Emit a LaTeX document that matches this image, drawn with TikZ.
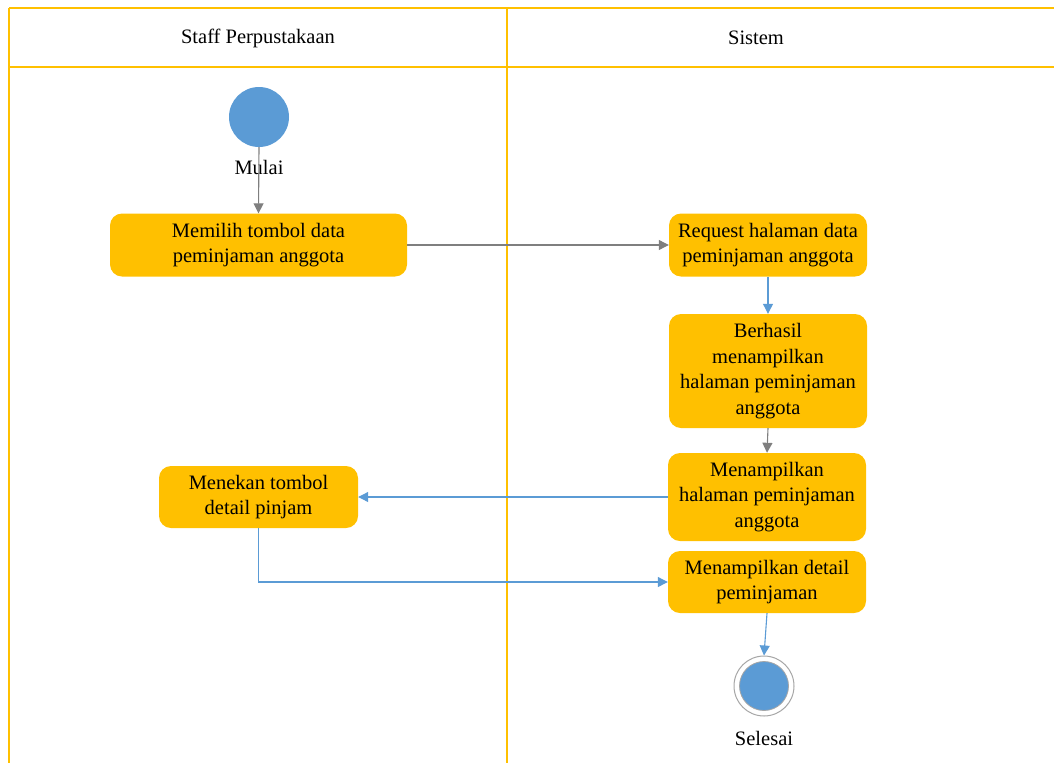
\documentclass[tikz,border=0pt]{standalone}
\usepackage{fontspec}
\setmainfont{Liberation Serif}
\usetikzlibrary{arrows.meta}
\definecolor{actfill}{HTML}{FFC000}
\definecolor{lanecol}{HTML}{FFC000}
\definecolor{flowblue}{HTML}{5B9BD5}
\definecolor{flowgray}{HTML}{7F7F7F}
\definecolor{ringgray}{HTML}{A6A6A6}
\tikzset{
  act/.style={fill=actfill, rounded corners=12pt, align=center, inner sep=0pt,
    font=\fontsize{20.5}{25.5}\selectfont},
  lbl/.style={font=\fontsize{20.5}{24}\selectfont, inner sep=0pt},
  blueflow/.style={draw=flowblue, line width=1.1pt, -{Triangle[length=10pt,width=10pt]}},
  grayflow/.style={draw=flowgray, line width=1.1pt, -{Triangle[length=10pt,width=10pt]}},
  laneline/.style={draw=lanecol, line width=1.3pt}
}
\begin{document}
\begin{tikzpicture}[x=1pt,y=-1pt]
\useasboundingbox (0,0) rectangle (1054,763);
% swimlane frame
\draw[draw=lanecol, line width=2pt] (9,8) -- (1054,8);
\draw[laneline] (9,8) -- (9,763);
\draw[laneline] (507,8) -- (507,763);
\draw[laneline] (9,67) -- (1054,67);
\node[lbl] (h1) at (258,38) {Staff Perpustakaan};
\node[lbl] (h2) at (756,38) {Sistem};
% start
\node[circle, fill=flowblue, minimum size=60pt, inner sep=0pt] (start) at (259,117) {};
\node[lbl] (mulai) at (259,167) {Mulai};
% activities
\node[act, minimum width=297pt, minimum height=63pt] (a1) at (258.5,245) {Memilih tombol data\\peminjaman anggota};
\node[act, minimum width=198pt, minimum height=63pt] (a2) at (768,245) {Request halaman data\\peminjaman anggota};
\node[act, minimum width=198pt, minimum height=114pt] (a3) at (768,371) {Berhasil\\menampilkan\\halaman peminjaman\\anggota};
\node[act, minimum width=198pt, minimum height=88pt] (a4) at (767,497) {Menampilkan\\halaman peminjaman\\anggota};
\node[act, minimum width=199pt, minimum height=62pt] (a5) at (258.5,497) {Menekan tombol\\detail pinjam};
\node[act, minimum width=198pt, minimum height=62pt] (a6) at (767,582) {Menampilkan detail\\peminjaman};
% end
\node[circle, draw=ringgray, line width=1pt, fill=white, minimum size=60pt, inner sep=0pt] (endo) at (764,686) {};
\node[circle, fill=flowblue, draw=ringgray, line width=0.8pt, minimum size=49pt, inner sep=0pt] (endi) at (764,686) {};
\node[lbl] (selesai) at (764,738) {Selesai};
% flows
\draw[grayflow] (start.south) -- (a1.north);
\draw[grayflow] (a1.east) -- (a2.west);
\draw[blueflow] (a2.south) -- (a3.north);
\draw[grayflow] (a3.south) -- (a4.north);
\draw[blueflow] (a4.west) -- (a5.east);
\draw[blueflow] (a5.south) |- (a6.west);
\draw[blueflow] (a6.south) -- (endo.north);
\end{tikzpicture}
\end{document}
